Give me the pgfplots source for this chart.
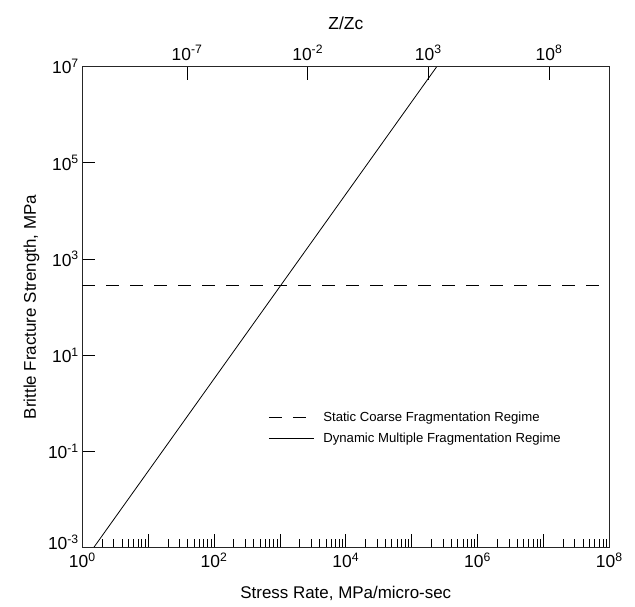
\documentclass[border=0pt]{standalone}
\usepackage{fontspec}
\setmainfont{Liberation Sans}
\usepackage{pgfplots}
\pgfplotsset{compat=1.18}
\begin{document}
\begin{tikzpicture}
\begin{axis}[
  at={(82.3bp,59.7bp)}, anchor=south west,
  scale only axis, width=527bp, height=480.6bp,
  xmode=log, ymode=log,
  xmin=1, xmax=1e8, ymin=1e-3, ymax=1e7,
  xtick={1,1e1,1e2,1e3,1e4,1e5,1e6,1e7,1e8},
  xticklabels={10\textsuperscript{0},,10\textsuperscript{2},,10\textsuperscript{4},,10\textsuperscript{6},,10\textsuperscript{8}},
  minor xtick={2,3,4,5,6,7,8,9,20,30,40,50,60,70,80,90,200,300,400,500,600,700,800,900,2e3,3e3,4e3,5e3,6e3,7e3,8e3,9e3,2e4,3e4,4e4,5e4,6e4,7e4,8e4,9e4,2e5,3e5,4e5,5e5,6e5,7e5,8e5,9e5,2e6,3e6,4e6,5e6,6e6,7e6,8e6,9e6,2e7,3e7,4e7,5e7,6e7,7e7,8e7,9e7},
  ytick={1e-3,1e-1,1e1,1e3,1e5,1e7},
  yticklabels={\raisebox{10bp}{10\textsuperscript{-3}},10\textsuperscript{-1},10\textsuperscript{1},10\textsuperscript{3},10\textsuperscript{5},10\textsuperscript{7}},
  yminorticks=false,
  xtick pos=left, ytick pos=left, tick align=inside,
  major tick length=13bp, minor tick length=8bp,
  tick style={black, line width=0.8bp},
  axis line style={line width=1.2bp, black!85},
  ticklabel style={font=\fontsize{17.5}{17.5}\selectfont},
  xticklabel style={yshift=-2bp},
  xlabel={Stress Rate, MPa/micro-sec},
  ylabel={Brittle Fracture Strength, MPa},
  label style={font=\fontsize{17}{17}\selectfont},
  xlabel style={at={(axis description cs:0.5,-0.073)}, anchor=north},
  ylabel style={at={(axis description cs:-0.0746,0.5)}, anchor=south},
  legend style={draw=none, fill=none, inner sep=0pt, at={(axis description cs:0.353,0.249)}, anchor=west,
    font=\fontsize{13.2}{15}\selectfont, row sep=6bp,
    /tikz/every odd column/.append style={column sep=7bp}},
  legend cell align=left,
  legend image code/.code={\draw[#1] (0bp,0bp) -- (45bp,0bp);},
]
\addplot[black, line width=0.8bp, dash pattern=on 13bp off 11bp] coordinates {(1,275) (1e8,275)};
\addlegendentry{Static Coarse Fragmentation Regime}
\addplot[black, line width=0.8bp] coordinates {(1.5,1e-3) (2.4e5,1e7)};
\addlegendentry{Dynamic Multiple Fragmentation Regime}
\end{axis}
\begin{axis}[
  at={(82.3bp,59.7bp)}, anchor=south west,
  scale only axis, width=527bp, height=480.6bp,
  xmode=log, xmin=4.57e-12, xmax=3.16e10, ymin=0, ymax=1,
  hide y axis,
  xtick={1e-7,1e-2,1e3,1e8},
  xticklabels={10\textsuperscript{-7},10\textsuperscript{-2},10\textsuperscript{3},10\textsuperscript{8}},
  xminorticks=false,
  xtick pos=right, xticklabel pos=right, tick align=inside,
  major tick length=13bp,
  tick style={black, line width=0.8bp},
  axis line style={line width=1.2bp, black!85},
  ticklabel style={font=\fontsize{17.5}{17.5}\selectfont},
  xticklabel style={yshift=3bp},
  xlabel={Z/Zc},
  xlabel style={at={(axis description cs:0.5,1.078)}, anchor=base},
  label style={font=\fontsize{17.5}{17.5}\selectfont},
]
\end{axis}
\pgfresetboundingbox
\path (0,0) rectangle (635bp,607bp);
\end{tikzpicture}
\end{document}
